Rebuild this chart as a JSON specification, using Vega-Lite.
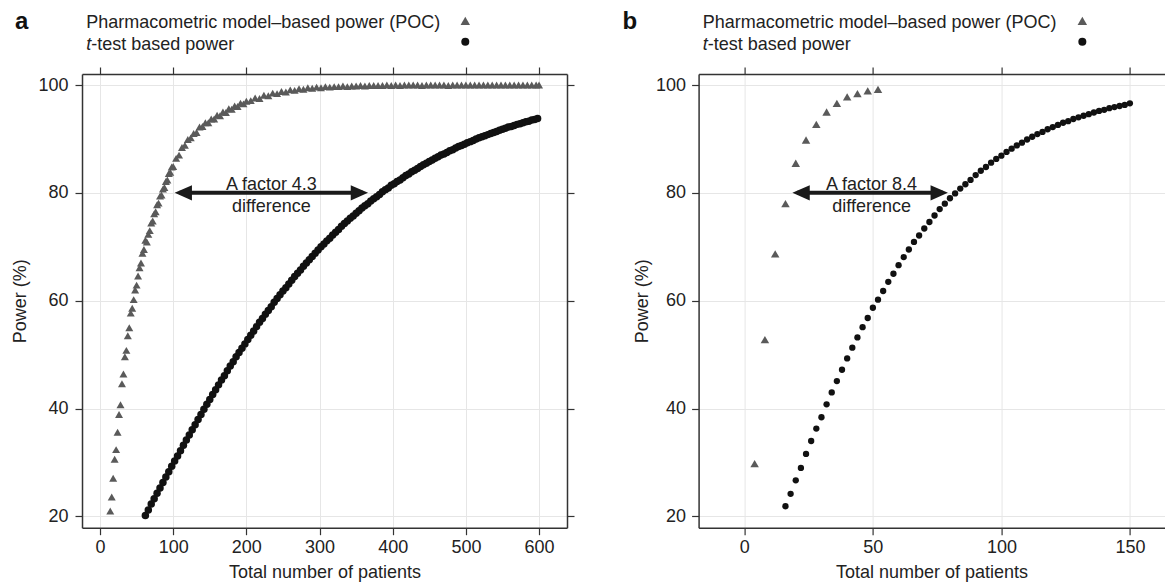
{
  "$schema": "https://vega.github.io/schema/vega-lite/v6.json",
  "padding": {"left": 11, "top": 9, "right": 0, "bottom": 0},
  "background": "white",
  "bounds": "flush",
  "spacing": 131.6,
  "config": {
    "font": "Liberation Sans",
    "view": {"stroke": null},
    "text": {"font": "Liberation Sans", "color": "#222"},
    "axis": {
      "labelFont": "Liberation Sans", "titleFont": "Liberation Sans",
      "labelFontSize": 18, "titleFontSize": 18, "titleFontWeight": "normal",
      "labelColor": "#222", "titleColor": "#222",
      "tickColor": "#333", "tickSize": 7, "tickWidth": 1.2,
      "domainColor": "#333", "domainWidth": 1.5,
      "gridColor": "#e6e6e6", "gridWidth": 1,
      "labelOverlap": false, "labelFlush": false
    }
  },
  "datasets": {
    "poc_a": [
      {"n":14,"p":21.0},{"n":16,"p":23.6},{"n":18,"p":27.1},{"n":20,"p":30.6},{"n":22,"p":32.4},{"n":24,"p":35.6},{"n":26,"p":38.9},{"n":28,"p":40.7},{"n":30,"p":44.6},{"n":32,"p":46.4},{"n":34,"p":49.6},{"n":36,"p":50.8},{"n":38,"p":53.5},{"n":40,"p":55.0},{"n":42,"p":57.7},{"n":44,"p":58.6},{"n":46,"p":60.2},{"n":48,"p":62.0},{"n":50,"p":62.9},{"n":52,"p":64.6},{"n":54,"p":66.1},{"n":56,"p":67.0},{"n":58,"p":68.8},{"n":60,"p":69.5},{"n":62,"p":71.2},{"n":64,"p":70.9},{"n":66,"p":72.3},{"n":68,"p":73.0},{"n":70,"p":74.4},{"n":72,"p":74.8},{"n":74,"p":76.1},{"n":76,"p":76.5},{"n":78,"p":77.8},{"n":80,"p":78.1},{"n":82,"p":79.4},{"n":84,"p":79.6},{"n":86,"p":80.7},{"n":88,"p":81.0},{"n":90,"p":82.1},{"n":92,"p":82.4},{"n":94,"p":83.6},{"n":96,"p":83.8},{"n":98,"p":84.8},{"n":100,"p":84.9},
      {"n":104,"p":86.4},{"n":108,"p":87.0},{"n":112,"p":88.4},{"n":116,"p":88.8},{"n":120,"p":89.9},{"n":124,"p":90.2},{"n":128,"p":91.0},{"n":132,"p":91.2},{"n":136,"p":92.2},{"n":140,"p":92.3},{"n":144,"p":93.0},{"n":148,"p":93.0},{"n":152,"p":93.7},{"n":156,"p":93.7},{"n":160,"p":94.4},{"n":164,"p":94.3},{"n":168,"p":95.0},{"n":172,"p":94.9},{"n":176,"p":95.6},{"n":180,"p":95.5},{"n":184,"p":96.1},{"n":188,"p":96.0},{"n":192,"p":96.6},{"n":196,"p":96.5},{"n":200,"p":97.0},
      {"n":206,"p":97.1},{"n":212,"p":97.6},{"n":218,"p":97.5},{"n":224,"p":98.1},{"n":230,"p":98.0},{"n":236,"p":98.5},{"n":242,"p":98.4},{"n":248,"p":98.8},{"n":254,"p":98.7},{"n":260,"p":99.1},{"n":266,"p":99.0},{"n":272,"p":99.3},{"n":278,"p":99.2},{"n":284,"p":99.5},{"n":290,"p":99.4},{"n":296,"p":99.6},{"n":302,"p":99.5},{"n":308,"p":99.7},{"n":314,"p":99.6},{"n":320,"p":99.7},{"n":326,"p":99.7},{"n":332,"p":99.8},{"n":338,"p":99.7},{"n":344,"p":99.8},{"n":350,"p":99.8},{"n":356,"p":99.9},{"n":362,"p":99.8},{"n":368,"p":99.9},{"n":374,"p":99.9},{"n":380,"p":99.9},{"n":386,"p":99.9},{"n":392,"p":100},{"n":398,"p":99.9},{"n":404,"p":100},{"n":410,"p":99.9},{"n":416,"p":100},{"n":422,"p":100},{"n":428,"p":100},{"n":434,"p":100},{"n":440,"p":99.9},{"n":446,"p":100},{"n":452,"p":100},{"n":458,"p":100},{"n":464,"p":100},{"n":470,"p":100},{"n":476,"p":99.9},{"n":482,"p":100},{"n":488,"p":100},{"n":494,"p":100},{"n":500,"p":100},{"n":506,"p":100},{"n":512,"p":100},{"n":518,"p":100},{"n":524,"p":100},{"n":530,"p":100},{"n":536,"p":100},{"n":542,"p":100},{"n":548,"p":100},{"n":554,"p":100},{"n":560,"p":100},{"n":566,"p":100},{"n":572,"p":100},{"n":578,"p":100},{"n":584,"p":100},{"n":590,"p":100},{"n":596,"p":100},{"n":600,"p":100}
    ],
    "t_a": [
      {"n":62,"p":20.2},{"n":66,"p":21.2},{"n":70,"p":22.3},{"n":74,"p":23.3},{"n":78,"p":24.3},{"n":82,"p":25.3},{"n":86,"p":26.3},{"n":90,"p":27.3},{"n":94,"p":28.3},{"n":98,"p":29.3},{"n":102,"p":30.3},{"n":106,"p":31.2},{"n":110,"p":32.2},{"n":114,"p":33.2},{"n":118,"p":34.2},{"n":122,"p":35.1},{"n":126,"p":36.1},{"n":130,"p":37.0},{"n":134,"p":38.0},{"n":138,"p":38.9},{"n":142,"p":39.9},{"n":146,"p":40.8},{"n":150,"p":41.7},{"n":154,"p":42.6},{"n":158,"p":43.5},{"n":162,"p":44.4},{"n":166,"p":45.3},{"n":170,"p":46.1},{"n":174,"p":47.0},{"n":178,"p":47.9},{"n":182,"p":48.7},{"n":186,"p":49.6},{"n":190,"p":50.4},{"n":194,"p":51.2},{"n":198,"p":52.0},{"n":202,"p":52.8},{"n":206,"p":53.6},{"n":210,"p":54.4},{"n":214,"p":55.2},{"n":218,"p":56.0},{"n":222,"p":56.7},{"n":226,"p":57.5},{"n":230,"p":58.2},{"n":234,"p":58.9},{"n":238,"p":59.7},{"n":242,"p":60.4},{"n":246,"p":61.1},{"n":250,"p":61.8},{"n":254,"p":62.4},{"n":258,"p":63.1},{"n":262,"p":63.8},{"n":266,"p":64.5},{"n":270,"p":65.1},{"n":274,"p":65.7},{"n":278,"p":66.4},{"n":282,"p":67.0},{"n":286,"p":67.6},{"n":290,"p":68.2},{"n":294,"p":68.8},{"n":298,"p":69.4},{"n":302,"p":70.0},{"n":306,"p":70.5},{"n":310,"p":71.1},{"n":314,"p":71.6},{"n":318,"p":72.2},{"n":322,"p":72.7},{"n":326,"p":73.2},{"n":330,"p":73.8},{"n":334,"p":74.3},{"n":338,"p":74.8},{"n":342,"p":75.3},{"n":346,"p":75.7},{"n":350,"p":76.2},{"n":354,"p":76.7},{"n":358,"p":77.2},{"n":362,"p":77.6},{"n":366,"p":78.0},{"n":370,"p":78.5},{"n":374,"p":78.9},{"n":378,"p":79.3},{"n":382,"p":79.7},{"n":386,"p":80.2},{"n":390,"p":80.6},{"n":394,"p":80.9},{"n":398,"p":81.4},{"n":402,"p":81.7},{"n":406,"p":82.1},{"n":410,"p":82.4},{"n":414,"p":82.8},{"n":418,"p":83.2},{"n":422,"p":83.5},{"n":426,"p":83.9},{"n":430,"p":84.2},{"n":434,"p":84.5},{"n":438,"p":84.9},{"n":442,"p":85.2},{"n":446,"p":85.5},{"n":450,"p":85.8},{"n":454,"p":86.1},{"n":458,"p":86.4},{"n":462,"p":86.7},{"n":466,"p":87.0},{"n":470,"p":87.2},{"n":474,"p":87.5},{"n":478,"p":87.8},{"n":482,"p":88.0},{"n":486,"p":88.3},{"n":490,"p":88.6},{"n":494,"p":88.8},{"n":498,"p":89.0},{"n":502,"p":89.3},{"n":506,"p":89.5},{"n":510,"p":89.7},{"n":514,"p":90.0},{"n":518,"p":90.2},{"n":522,"p":90.4},{"n":526,"p":90.6},{"n":530,"p":90.8},{"n":534,"p":91.0},{"n":538,"p":91.2},{"n":542,"p":91.4},{"n":546,"p":91.6},{"n":550,"p":91.8},{"n":554,"p":92.0},{"n":558,"p":92.2},{"n":562,"p":92.3},{"n":566,"p":92.5},{"n":570,"p":92.7},{"n":574,"p":92.8},{"n":578,"p":93.0},{"n":582,"p":93.2},{"n":586,"p":93.3},{"n":590,"p":93.5},{"n":594,"p":93.6},{"n":598,"p":93.8}
    ],
    "poc_b": [
      {"n":4,"p":29.8},{"n":8,"p":52.8},{"n":12,"p":68.7},{"n":16,"p":78.0},{"n":20,"p":85.5},{"n":24,"p":89.8},{"n":28,"p":92.7},{"n":32,"p":95.0},{"n":36,"p":96.6},{"n":40,"p":97.8},{"n":44,"p":98.4},{"n":48,"p":98.9},{"n":52,"p":99.2}
    ],
    "t_b": [
      {"n":16,"p":21.9},{"n":18,"p":24.2},{"n":20,"p":26.7},{"n":22,"p":29.0},{"n":24,"p":31.6},{"n":26,"p":34.0},{"n":28,"p":36.3},{"n":30,"p":38.4},{"n":32,"p":40.8},{"n":34,"p":43.0},{"n":36,"p":45.1},{"n":38,"p":47.2},{"n":40,"p":49.3},{"n":42,"p":51.3},{"n":44,"p":53.2},{"n":46,"p":55.1},{"n":48,"p":56.8},{"n":50,"p":58.7},{"n":52,"p":60.2},{"n":54,"p":61.8},{"n":56,"p":63.5},{"n":58,"p":65.0},{"n":60,"p":66.6},{"n":62,"p":68.1},{"n":64,"p":69.5},{"n":66,"p":70.9},{"n":68,"p":72.1},{"n":70,"p":73.4},{"n":72,"p":74.6},{"n":74,"p":75.8},{"n":76,"p":77.0},{"n":78,"p":78.0},{"n":80,"p":79.0},{"n":82,"p":79.9},{"n":84,"p":80.8},{"n":86,"p":81.6},{"n":88,"p":82.4},{"n":90,"p":83.3},{"n":92,"p":84.1},{"n":94,"p":84.8},{"n":96,"p":85.6},{"n":98,"p":86.3},{"n":100,"p":86.9},{"n":102,"p":87.6},{"n":104,"p":88.2},{"n":106,"p":88.8},{"n":108,"p":89.3},{"n":110,"p":89.9},{"n":112,"p":90.4},{"n":114,"p":90.9},{"n":116,"p":91.3},{"n":118,"p":91.8},{"n":120,"p":92.2},{"n":122,"p":92.6},{"n":124,"p":93.0},{"n":126,"p":93.3},{"n":128,"p":93.7},{"n":130,"p":94.0},{"n":132,"p":94.3},{"n":134,"p":94.6},{"n":136,"p":94.9},{"n":138,"p":95.2},{"n":140,"p":95.4},{"n":142,"p":95.7},{"n":144,"p":95.9},{"n":146,"p":96.1},{"n":148,"p":96.3},{"n":150,"p":96.6}
    ],
    "shaft_a": [{"from":108.8,"to":359.5,"p":80}],
    "heads_a": [{"n":102.0,"p":80,"dir":"left"},{"n":366.3,"p":80,"dir":"right"}],
    "note_a": [{"n":234.2,"p":80.53,"text":"A factor 4.3"},{"n":234.2,"p":76.4,"text":"difference"}],
    "leg_a": [{"n":-18.7,"p":111.5,"p2":107.4,"letter_n":-106.9,"letter_p":111.7,"sym_n":499.2,"sym_p1":111.9,"sym_p2":108.0}],
    "shaft_b": [{"from":20.6,"to":77.3,"p":80}],
    "heads_b": [{"n":18.7,"p":80,"dir":"left"},{"n":79.2,"p":80,"dir":"right"}],
    "note_b": [{"n":49.5,"p":80.53,"text":"A factor 8.4"},{"n":49.5,"p":76.4,"text":"difference"}],
    "leg_b": [{"n":-16.2,"p":111.5,"p2":107.4,"letter_n":-44.6,"letter_p":111.7,"sym_n":131.5,"sym_p1":111.9,"sym_p2":108.0}]
  },
  "hconcat": [
    {
      "width": 485,
      "height": 453.7,
      "resolve": {"axis": {"x": "independent", "y": "independent"}},
      "layer": [
        {
          "data": {"name": "t_a"},
          "mark": {"type": "point", "shape": "circle", "filled": true, "size": 56, "color": "#111111", "opacity": 1},
          "encoding": {
            "x": {"field": "n", "type": "quantitative", "scale": {"domain": [-24.6, 638.2], "nice": false, "zero": false},
                  "axis": {"orient": "bottom", "values": [0,100,200,300,400,500,600], "grid": true, "title": "Total number of patients", "labelPadding": 4, "titlePadding": 7}},
            "y": {"field": "p", "type": "quantitative", "scale": {"domain": [17.92, 102.04], "nice": false, "zero": false},
                  "axis": {"orient": "left", "values": [20,40,60,80,100], "grid": true, "title": "Power (%)", "labelPadding": 7, "titlePadding": 8}}
          }
        },
        {
          "data": {"name": "poc_a"},
          "mark": {"type": "point", "shape": "triangle-up", "filled": true, "size": 64, "color": "#5a5a5a", "opacity": 1},
          "encoding": {
            "x": {"field": "n", "type": "quantitative", "scale": {"domain": [-24.6, 638.2], "nice": false, "zero": false},
                  "axis": {"orient": "top", "values": [0,100,200,300,400,500,600], "labels": false, "grid": false, "title": null}},
            "y": {"field": "p", "type": "quantitative", "scale": {"domain": [17.92, 102.04], "nice": false, "zero": false},
                  "axis": {"orient": "right", "values": [20,40,60,80,100], "labels": false, "grid": false, "title": null}}
          }
        },
        {
          "data": {"name": "shaft_a"},
          "mark": {"type": "rule", "strokeWidth": 4, "color": "#1a1a1a"},
          "encoding": {
            "x": {"field": "from", "type": "quantitative", "scale": {"domain": [-24.6, 638.2], "nice": false, "zero": false}, "axis": null},
            "x2": {"field": "to"},
            "y": {"field": "p", "type": "quantitative", "scale": {"domain": [17.92, 102.04], "nice": false, "zero": false}, "axis": null}
          }
        },
        {
          "data": {"name": "heads_a"},
          "mark": {"type": "point", "filled": true, "size": 1200, "color": "#1a1a1a", "opacity": 1, "strokeWidth": 0},
          "encoding": {
            "x": {"field": "n", "type": "quantitative", "scale": {"domain": [-24.6, 638.2], "nice": false, "zero": false}, "axis": null},
            "y": {"field": "p", "type": "quantitative", "scale": {"domain": [17.92, 102.04], "nice": false, "zero": false}, "axis": null},
            "shape": {"field": "dir", "type": "nominal", "scale": {"domain": ["left","right"], "range": ["M0,0L1,-0.44L1,0.44Z", "M0,0L-1,-0.44L-1,0.44Z"]}, "legend": null}
          }
        },
        {
          "data": {"name": "note_a"},
          "mark": {"type": "text", "align": "center", "baseline": "alphabetic", "fontSize": 18, "color": "#222"},
          "encoding": {
            "x": {"field": "n", "type": "quantitative", "scale": {"domain": [-24.6, 638.2], "nice": false, "zero": false}, "axis": null},
            "y": {"field": "p", "type": "quantitative", "scale": {"domain": [17.92, 102.04], "nice": false, "zero": false}, "axis": null},
            "text": {"field": "text"}
          }
        },
        {
          "data": {"name": "leg_a"},
          "mark": {"type": "text", "align": "left", "baseline": "middle", "fontSize": 18, "color": "#222", "text": "Pharmacometric model\u2013based power (POC)"},
          "encoding": {
            "x": {"field": "n", "type": "quantitative", "scale": {"domain": [-24.6, 638.2], "nice": false, "zero": false}, "axis": null},
            "y": {"field": "p", "type": "quantitative", "scale": {"domain": [17.92, 102.04], "nice": false, "zero": false}, "axis": null}
          }
        },
        {
          "data": {"name": "leg_a"},
          "mark": {"type": "text", "align": "left", "baseline": "middle", "fontSize": 18, "fontStyle": "italic", "color": "#222", "text": "t"},
          "encoding": {
            "x": {"field": "n", "type": "quantitative", "scale": {"domain": [-24.6, 638.2], "nice": false, "zero": false}, "axis": null},
            "y": {"field": "p2", "type": "quantitative", "scale": {"domain": [17.92, 102.04], "nice": false, "zero": false}, "axis": null}
          }
        },
        {
          "data": {"name": "leg_a"},
          "mark": {"type": "text", "align": "left", "baseline": "middle", "fontSize": 18, "dx": 5, "color": "#222", "text": "-test based power"},
          "encoding": {
            "x": {"field": "n", "type": "quantitative", "scale": {"domain": [-24.6, 638.2], "nice": false, "zero": false}, "axis": null},
            "y": {"field": "p2", "type": "quantitative", "scale": {"domain": [17.92, 102.04], "nice": false, "zero": false}, "axis": null}
          }
        },
        {
          "data": {"name": "leg_a"},
          "mark": {"type": "text", "align": "center", "baseline": "middle", "fontSize": 24, "fontWeight": "bold", "color": "#111", "text": "a"},
          "encoding": {
            "x": {"field": "letter_n", "type": "quantitative", "scale": {"domain": [-24.6, 638.2], "nice": false, "zero": false}, "axis": null},
            "y": {"field": "letter_p", "type": "quantitative", "scale": {"domain": [17.92, 102.04], "nice": false, "zero": false}, "axis": null}
          }
        },
        {
          "data": {"name": "leg_a"},
          "mark": {"type": "point", "shape": "triangle-up", "filled": true, "size": 90, "color": "#5a5a5a", "opacity": 1},
          "encoding": {
            "x": {"field": "sym_n", "type": "quantitative", "scale": {"domain": [-24.6, 638.2], "nice": false, "zero": false}, "axis": null},
            "y": {"field": "sym_p1", "type": "quantitative", "scale": {"domain": [17.92, 102.04], "nice": false, "zero": false}, "axis": null}
          }
        },
        {
          "data": {"name": "leg_a"},
          "mark": {"type": "point", "shape": "circle", "filled": true, "size": 64, "color": "#111111", "opacity": 1},
          "encoding": {
            "x": {"field": "sym_n", "type": "quantitative", "scale": {"domain": [-24.6, 638.2], "nice": false, "zero": false}, "axis": null},
            "y": {"field": "sym_p2", "type": "quantitative", "scale": {"domain": [17.92, 102.04], "nice": false, "zero": false}, "axis": null}
          }
        }
      ]
    },
    {
      "width": 466,
      "height": 453.7,
      "resolve": {"axis": {"x": "independent", "y": "independent"}},
      "layer": [
        {
          "data": {"name": "t_b"},
          "mark": {"type": "point", "shape": "circle", "filled": true, "size": 40, "color": "#111111", "opacity": 1},
          "encoding": {
            "x": {"field": "n", "type": "quantitative", "scale": {"domain": [-17.8, 163.5], "nice": false, "zero": false},
                  "axis": {"orient": "bottom", "values": [0,50,100,150], "grid": true, "title": "Total number of patients", "labelPadding": 4, "titlePadding": 7}},
            "y": {"field": "p", "type": "quantitative", "scale": {"domain": [17.92, 102.04], "nice": false, "zero": false},
                  "axis": {"orient": "left", "values": [20,40,60,80,100], "grid": true, "title": "Power (%)", "labelPadding": 6, "titlePadding": 4}}
          }
        },
        {
          "data": {"name": "poc_b"},
          "mark": {"type": "point", "shape": "triangle-up", "filled": true, "size": 72, "color": "#5a5a5a", "opacity": 1},
          "encoding": {
            "x": {"field": "n", "type": "quantitative", "scale": {"domain": [-17.8, 163.5], "nice": false, "zero": false},
                  "axis": {"orient": "top", "values": [0,50,100,150], "labels": false, "grid": false, "title": null}},
            "y": {"field": "p", "type": "quantitative", "scale": {"domain": [17.92, 102.04], "nice": false, "zero": false}, "axis": null}
          }
        },
        {
          "data": {"name": "shaft_b"},
          "mark": {"type": "rule", "strokeWidth": 4, "color": "#1a1a1a"},
          "encoding": {
            "x": {"field": "from", "type": "quantitative", "scale": {"domain": [-17.8, 163.5], "nice": false, "zero": false}, "axis": null},
            "x2": {"field": "to"},
            "y": {"field": "p", "type": "quantitative", "scale": {"domain": [17.92, 102.04], "nice": false, "zero": false}, "axis": null}
          }
        },
        {
          "data": {"name": "heads_b"},
          "mark": {"type": "point", "filled": true, "size": 1200, "color": "#1a1a1a", "opacity": 1, "strokeWidth": 0},
          "encoding": {
            "x": {"field": "n", "type": "quantitative", "scale": {"domain": [-17.8, 163.5], "nice": false, "zero": false}, "axis": null},
            "y": {"field": "p", "type": "quantitative", "scale": {"domain": [17.92, 102.04], "nice": false, "zero": false}, "axis": null},
            "shape": {"field": "dir", "type": "nominal", "scale": {"domain": ["left","right"], "range": ["M0,0L1,-0.44L1,0.44Z", "M0,0L-1,-0.44L-1,0.44Z"]}, "legend": null}
          }
        },
        {
          "data": {"name": "note_b"},
          "mark": {"type": "text", "align": "center", "baseline": "alphabetic", "fontSize": 18, "color": "#222"},
          "encoding": {
            "x": {"field": "n", "type": "quantitative", "scale": {"domain": [-17.8, 163.5], "nice": false, "zero": false}, "axis": null},
            "y": {"field": "p", "type": "quantitative", "scale": {"domain": [17.92, 102.04], "nice": false, "zero": false}, "axis": null},
            "text": {"field": "text"}
          }
        },
        {
          "data": {"name": "leg_b"},
          "mark": {"type": "text", "align": "left", "baseline": "middle", "fontSize": 18, "color": "#222", "text": "Pharmacometric model\u2013based power (POC)"},
          "encoding": {
            "x": {"field": "n", "type": "quantitative", "scale": {"domain": [-17.8, 163.5], "nice": false, "zero": false}, "axis": null},
            "y": {"field": "p", "type": "quantitative", "scale": {"domain": [17.92, 102.04], "nice": false, "zero": false}, "axis": null}
          }
        },
        {
          "data": {"name": "leg_b"},
          "mark": {"type": "text", "align": "left", "baseline": "middle", "fontSize": 18, "fontStyle": "italic", "color": "#222", "text": "t"},
          "encoding": {
            "x": {"field": "n", "type": "quantitative", "scale": {"domain": [-17.8, 163.5], "nice": false, "zero": false}, "axis": null},
            "y": {"field": "p2", "type": "quantitative", "scale": {"domain": [17.92, 102.04], "nice": false, "zero": false}, "axis": null}
          }
        },
        {
          "data": {"name": "leg_b"},
          "mark": {"type": "text", "align": "left", "baseline": "middle", "fontSize": 18, "dx": 5, "color": "#222", "text": "-test based power"},
          "encoding": {
            "x": {"field": "n", "type": "quantitative", "scale": {"domain": [-17.8, 163.5], "nice": false, "zero": false}, "axis": null},
            "y": {"field": "p2", "type": "quantitative", "scale": {"domain": [17.92, 102.04], "nice": false, "zero": false}, "axis": null}
          }
        },
        {
          "data": {"name": "leg_b"},
          "mark": {"type": "text", "align": "center", "baseline": "middle", "fontSize": 24, "fontWeight": "bold", "color": "#111", "text": "b"},
          "encoding": {
            "x": {"field": "letter_n", "type": "quantitative", "scale": {"domain": [-17.8, 163.5], "nice": false, "zero": false}, "axis": null},
            "y": {"field": "letter_p", "type": "quantitative", "scale": {"domain": [17.92, 102.04], "nice": false, "zero": false}, "axis": null}
          }
        },
        {
          "data": {"name": "leg_b"},
          "mark": {"type": "point", "shape": "triangle-up", "filled": true, "size": 90, "color": "#5a5a5a", "opacity": 1},
          "encoding": {
            "x": {"field": "sym_n", "type": "quantitative", "scale": {"domain": [-17.8, 163.5], "nice": false, "zero": false}, "axis": null},
            "y": {"field": "sym_p1", "type": "quantitative", "scale": {"domain": [17.92, 102.04], "nice": false, "zero": false}, "axis": null}
          }
        },
        {
          "data": {"name": "leg_b"},
          "mark": {"type": "point", "shape": "circle", "filled": true, "size": 64, "color": "#111111", "opacity": 1},
          "encoding": {
            "x": {"field": "sym_n", "type": "quantitative", "scale": {"domain": [-17.8, 163.5], "nice": false, "zero": false}, "axis": null},
            "y": {"field": "sym_p2", "type": "quantitative", "scale": {"domain": [17.92, 102.04], "nice": false, "zero": false}, "axis": null}
          }
        }
      ]
    }
  ]
}
